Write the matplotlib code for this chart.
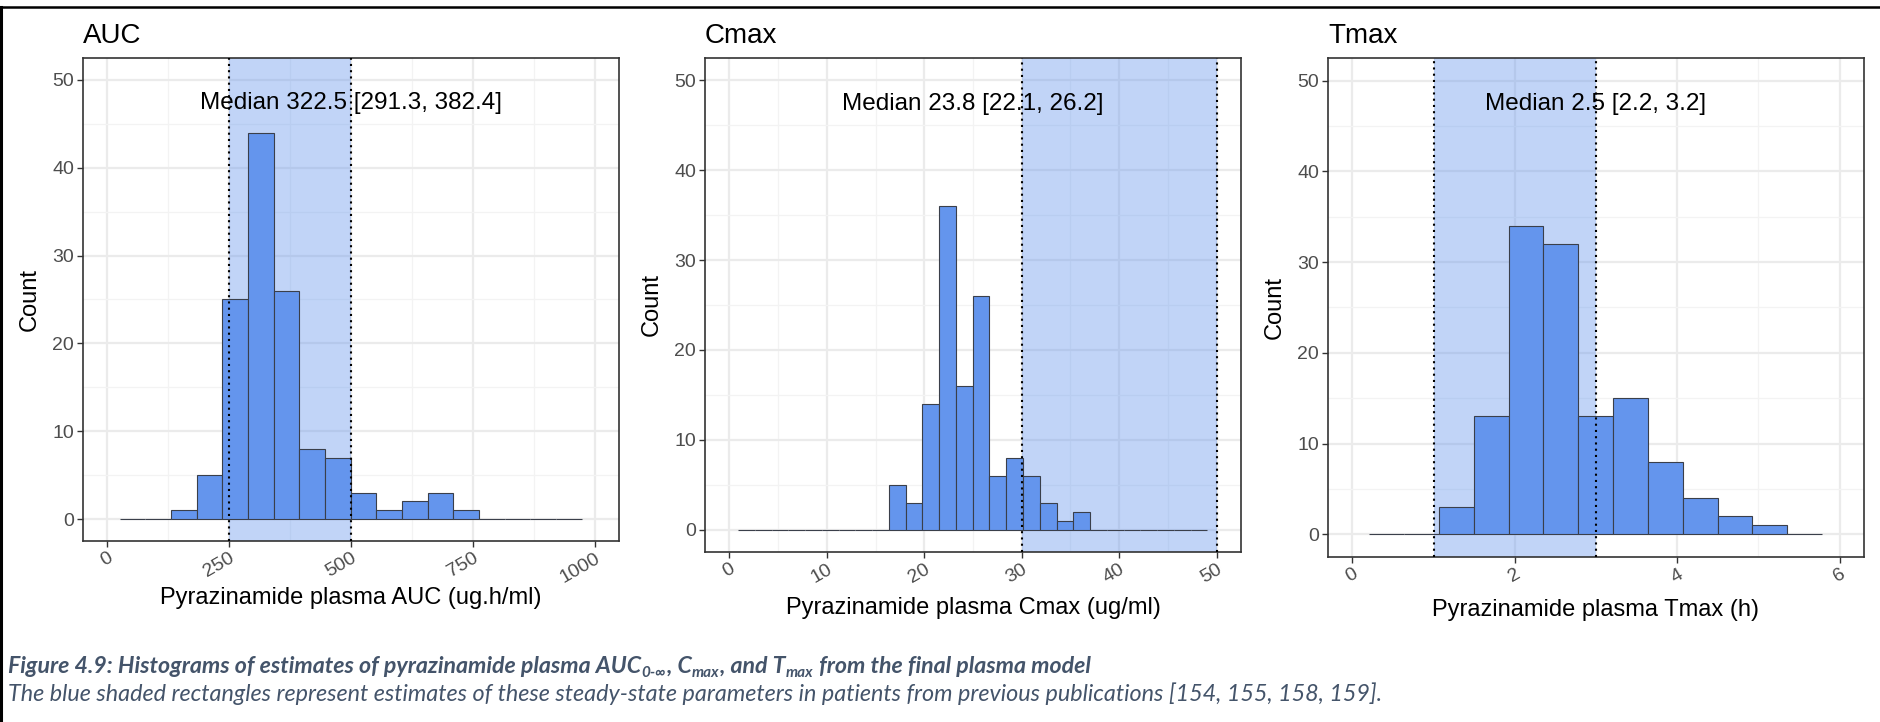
import numpy as np
import matplotlib
matplotlib.use("Agg")
import matplotlib.pyplot as plt
from matplotlib.lines import Line2D
from matplotlib.ticker import MultipleLocator

plt.rcParams['font.family'] = ['Liberation Sans', 'DejaVu Sans']

# histogram counts per bin (bins of equal width starting at bin_start)
auc_counts = [0, 0, 1, 5, 25, 44, 26, 8, 7, 3, 1, 2, 3, 1, 0, 0, 0, 0]
auc_bin_start, auc_bin_width = 25.0, 52.7

cmax_counts = [0, 0, 0, 0, 0, 0, 0, 0, 0, 5, 3, 14, 36, 16, 26, 6, 8, 6, 3, 1, 2,
               0, 0, 0, 0, 0, 0, 0]
cmax_bin_start, cmax_bin_width = 0.89, 1.72

tmax_counts = [0, 0, 3, 13, 34, 32, 13, 15, 8, 4, 2, 1, 0]
tmax_bin_start, tmax_bin_width = 0.208, 0.429

# published ranges (shaded) and the model medians
auc_range = [250, 500]
cmax_range = [30, 50]
tmax_range = [1, 3]
labels = ['Median 322.5 [291.3, 382.4]', 'Median 23.8 [22.1, 26.2]', 'Median 2.5 [2.2, 3.2]']
label_x = [500, 25, 3]

titles = ['AUC', 'Cmax', 'Tmax']
xlabels = ['Pyrazinamide plasma AUC (ug.h/ml)', 'Pyrazinamide plasma Cmax (ug/ml)',
           'Pyrazinamide plasma Tmax (h)']

W, H = 1881, 722
fig = plt.figure(figsize=(W / 100, H / 100), dpi=100)


def box(l, t, r, b):
    return [l / W, 1 - b / H, (r - l) / W, (b - t) / H]


panels = [
    dict(rect=box(83, 58, 619, 541), counts=auc_counts, start=auc_bin_start, width=auc_bin_width,
         rng=auc_range, xlim=(-50, 1050), minor=125, ticks=[0, 250, 500, 750, 1000], xlab_y=598),
    dict(rect=box(705, 58, 1241, 552), counts=cmax_counts, start=cmax_bin_start, width=cmax_bin_width,
         rng=cmax_range, xlim=(-2.5, 52.5), minor=5, ticks=[0, 10, 20, 30, 40, 50], xlab_y=608),
    dict(rect=box(1328, 58, 1864, 557), counts=tmax_counts, start=tmax_bin_start, width=tmax_bin_width,
         rng=tmax_range, xlim=(-0.3, 6.3), minor=1, ticks=[0, 2, 4, 6], xlab_y=610),
]

blue = '#6495ED'
for i, p in enumerate(panels):
    ax = fig.add_axes(p['rect'])
    counts = np.array(p['counts'])
    edges = p['start'] + p['width'] * np.arange(len(counts) + 1)
    pw, ph = p['rect'][2] * W, p['rect'][3] * H

    ax.set_xlim(*p['xlim'])
    ax.set_ylim(-2.5, 52.5)
    ax.set_xticks(p['ticks'])
    ax.xaxis.set_minor_locator(MultipleLocator(p['minor']))
    ax.set_yticks([0, 10, 20, 30, 40, 50])
    ax.yaxis.set_minor_locator(MultipleLocator(5))
    ax.grid(which='major', color='#EBEBEB', lw=1.6, zorder=0)
    ax.grid(which='minor', color='#F3F3F3', lw=0.9, zorder=0)
    ax.set_axisbelow(True)

    ax.axvspan(p['rng'][0], p['rng'][1], color=blue, alpha=0.4, lw=0, zorder=1)
    ax.bar(edges[:-1], counts, width=p['width'], align='edge', color=blue,
           edgecolor='#3a3f4a', linewidth=0.8, zorder=2)
    for v in p['rng']:
        ax.axvline(v, color='black', ls=(0, (1, 2.0)), lw=1.5, zorder=3)

    ax.text(label_x[i], 47.4, labels[i], ha='center', va='center', fontsize=17.5, zorder=4)

    ax.set_title(titles[i], loc='left', fontsize=20, pad=11)
    ax.set_ylabel('Count', fontsize=17, va='center')
    ax.yaxis.set_label_coords(-53.4 / pw, 0.5)
    ax.set_xlabel(xlabels[i], fontsize=17, va='center')
    ax.xaxis.set_label_coords(0.5, -(p['xlab_y'] - (1 - p['rect'][1]) * H) / ph)

    ax.tick_params(which='minor', length=0)
    ax.tick_params(which='major', length=4.3, width=1.0, color='#333333', labelcolor='#4D4D4D',
                   labelsize=14, pad=2)
    for t in ax.get_xticklabels():
        t.set_rotation(30)
        t.set_ha('right')
        t.set_va('top')
        t.set_rotation_mode('anchor')
    for s in ax.spines.values():
        s.set_color('#333333')
        s.set_linewidth(1.2)

# frame lines
fig.add_artist(Line2D([0, 1], [1 - 7 / H, 1 - 7 / H], transform=fig.transFigure, color='black', lw=1.8))
fig.add_artist(Line2D([1.2 / W, 1.2 / W], [0, 1 - 7 / H], transform=fig.transFigure, color='black', lw=2.2))

# caption: pieces laid out one after another on a common baseline, subscripts lowered
cap = dict(family=['Lato', 'DejaVu Sans'], color='#44546A', style='italic', va='baseline')
renderer = fig.canvas.get_renderer()
pieces = [('Figure 4.9: Histograms of estimates of pyrazinamide plasma AUC', False),
          ('0-\u221e', True), (', C', False), ('max', True), (', and T', False), ('max', True),
          (' from the final plasma model', False)]
x = 8.0
for txt, sub in pieces:
    y = 673 + (4 if sub else 0)
    t = fig.text(x / W, 1 - y / H, txt, fontsize=11 if sub else 16.7, weight='bold', **cap)
    x = t.get_window_extent(renderer).x1 + 0.5

fig.text(8 / W, 1 - 701 / H,
         'The blue shaded rectangles represent estimates of these steady-state parameters in patients '
         'from previous publications [154, 155, 158, 159].',
         fontsize=16.8, **cap)

fig.savefig('out.png', dpi=100)
